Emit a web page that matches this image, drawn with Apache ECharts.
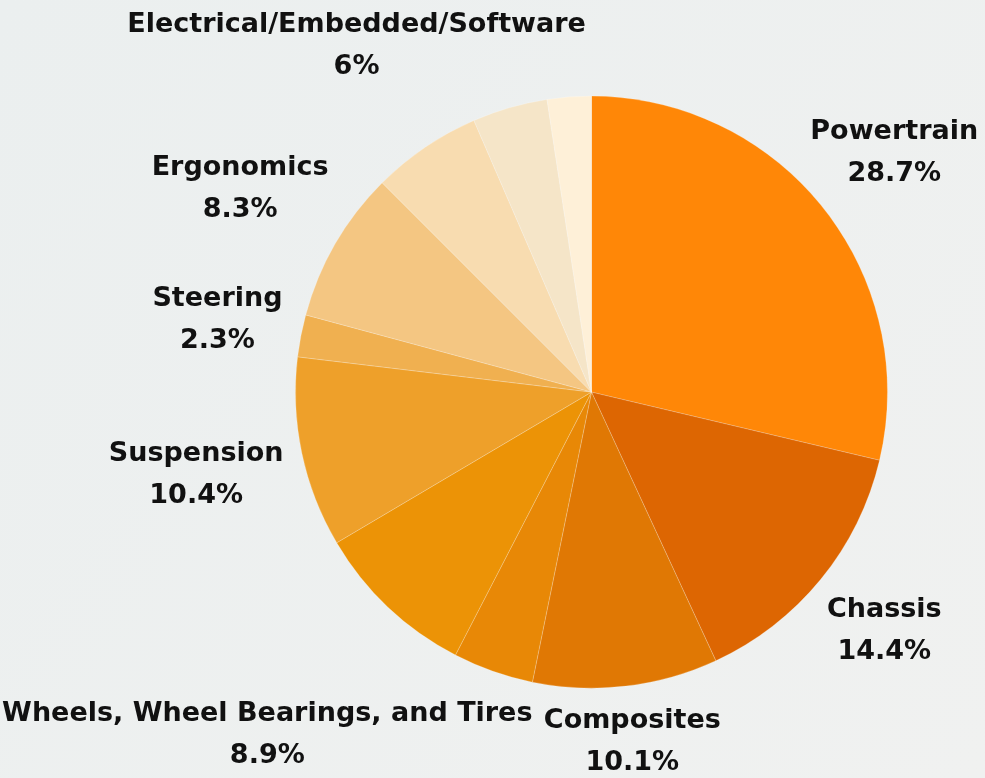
<!DOCTYPE html>
<html>
<head>
<meta charset="utf-8">
<script src="https://cdn.jsdelivr.net/npm/echarts@6/dist/echarts.min.js"></script>
<style>
  html, body { margin: 0; padding: 0; background: #edf0f0; }
  #chart { width: 985px; height: 778px; }
</style>
</head>
<body>
<div id="chart"></div>
<script>
// slices clockwise from 12 o'clock
const names = [
  "Powertrain", "Chassis", "Composites", "Other 1",
  "Wheels, Wheel Bearings, and Tires", "Suspension", "Steering",
  "Ergonomics", "Electrical/Embedded/Software", "Other 2", "Other 3"
];
const values = [28.7, 14.4, 10.1, 4.4, 8.9, 10.4, 2.3, 8.3, 6, 4.1, 2.4];
const showLabel = [true, true, true, false, true, true, true, true, true, false, false];

const colors = [
  "#ff8707", "#dd6602", "#e07804", "#e88806", "#ec9306", "#eea02a",
  "#f0b050", "#f4c682", "#f8dcb0", "#f5e5c8", "#fef0d8"
];
// distance of each label centre from the pie centre (px)
const labelDist = [386, 378, 352, 0, 472, 404, 381, 406, 418, 0, 0];

const centerPct = [0.6005, 0.504];
const radius = 296;

const total = values.reduce((a, b) => a + b, 0);
const midAngles = [];
let acc = 0;
values.forEach((v) => {
  midAngles.push(((acc + v / 2) / total) * 2 * Math.PI);
  acc += v;
});

const chart = echarts.init(document.getElementById("chart"));

chart.setOption({
  backgroundColor: new echarts.graphic.LinearGradient(0, 0, 1, 1, [
    { offset: 0, color: "#ebefef" },
    { offset: 1, color: "#f0f1f0" },
  ]),
  animation: false,
  series: [
    {
      type: "pie",
      center: [centerPct[0] * 100 + "%", centerPct[1] * 100 + "%"],
      radius: radius,
      startAngle: 90,
      clockwise: true,
      avoidLabelOverlap: false,
      itemStyle: { borderColor: "rgba(255,255,255,0.35)", borderWidth: 0.6 },
      label: {
        show: true,
        position: "outside",
        formatter: "{b}\n{c}%",
        color: "#111",
        fontFamily: "DejaVu Sans",
        fontWeight: "bold",
        fontSize: 27,
        lineHeight: 42,
      },
      labelLine: { show: false },
      labelLayout: (params) => {
        const i = params.dataIndex;
        const cx = chart.getWidth() * centerPct[0];
        const cy = chart.getHeight() * centerPct[1];
        const a = midAngles[i];
        return {
          x: cx + labelDist[i] * Math.sin(a),
          y: cy - labelDist[i] * Math.cos(a),
          align: "center",
          verticalAlign: "middle",
        };
      },
      data: names.map((n, i) => ({
        name: n,
        value: values[i],
        itemStyle: { color: colors[i] },
        label: { show: showLabel[i] },
      })),
    },
  ],
});
</script>
</body>
</html>
